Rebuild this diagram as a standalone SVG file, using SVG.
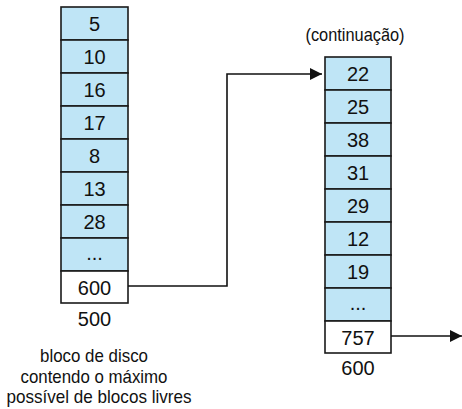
<svg xmlns="http://www.w3.org/2000/svg" width="462" height="409" viewBox="0 0 462 409">
<defs>
<marker id="ah" viewBox="0 0 12 12" refX="12" refY="6" markerWidth="12" markerHeight="12" markerUnits="userSpaceOnUse" orient="auto">
<path d="M0,0 L12,6 L0,12 Z" fill="#111"/>
</marker>
<style>
.c{fill:#bfe5f6;stroke:#1a1a1a;stroke-width:1.6}
.w{fill:#ffffff;stroke:#1a1a1a;stroke-width:1.6}
.t{font-family:"Liberation Sans",Arial,sans-serif;font-size:20px;fill:#111;text-anchor:middle}
.l{font-family:"Liberation Sans",Arial,sans-serif;font-size:19px;fill:#111;text-anchor:middle}
.k{fill:none;stroke:#111;stroke-width:1.6}
</style>
</defs>
<rect width="462" height="409" fill="#ffffff"/>
<g id="block500">
<rect class="c" x="61" y="7" width="67" height="33"/><text class="t" x="94.5" y="31">5</text>
<rect class="c" x="61" y="40" width="67" height="33"/><text class="t" x="94.5" y="64">10</text>
<rect class="c" x="61" y="73" width="67" height="33"/><text class="t" x="94.5" y="97">16</text>
<rect class="c" x="61" y="106" width="67" height="33"/><text class="t" x="94.5" y="130">17</text>
<rect class="c" x="61" y="139" width="67" height="33"/><text class="t" x="94.5" y="163">8</text>
<rect class="c" x="61" y="172" width="67" height="33"/><text class="t" x="94.5" y="196">13</text>
<rect class="c" x="61" y="205" width="67" height="33"/><text class="t" x="94.5" y="229">28</text>
<rect class="c" x="61" y="238" width="67" height="33"/><text class="t" x="94.5" y="260">...</text>
<rect class="w" x="61" y="271" width="67" height="32"/><text class="t" x="94.5" y="295">600</text>
<text class="t" x="94.5" y="326">500</text>
<text class="l" x="94" y="362" textLength="108" lengthAdjust="spacingAndGlyphs">bloco de disco</text>
<text class="l" x="94" y="383" textLength="147" lengthAdjust="spacingAndGlyphs">contendo o máximo</text>
<text class="l" x="99" y="403" textLength="185" lengthAdjust="spacingAndGlyphs">possível de blocos livres</text>
</g>
<g id="block600">
<text class="l" x="355" y="41" textLength="99" lengthAdjust="spacingAndGlyphs">(continuação)</text>
<rect class="c" x="325" y="57" width="66" height="33"/><text class="t" x="358" y="81">22</text>
<rect class="c" x="325" y="90" width="66" height="33"/><text class="t" x="358" y="114">25</text>
<rect class="c" x="325" y="123" width="66" height="33"/><text class="t" x="358" y="147">38</text>
<rect class="c" x="325" y="156" width="66" height="33"/><text class="t" x="358" y="180">31</text>
<rect class="c" x="325" y="189" width="66" height="33"/><text class="t" x="358" y="213">29</text>
<rect class="c" x="325" y="222" width="66" height="33"/><text class="t" x="358" y="246">12</text>
<rect class="c" x="325" y="255" width="66" height="33"/><text class="t" x="358" y="279">19</text>
<rect class="c" x="325" y="288" width="66" height="33"/><text class="t" x="358" y="310">...</text>
<rect class="w" x="325" y="321" width="66" height="32"/><text class="t" x="358" y="345">757</text>
<text class="t" x="358" y="375">600</text>
</g>
<g id="connectors">
<path class="k" d="M128,286 H227 V74 H322" marker-end="url(#ah)"/>
<path class="k" d="M391,336 H462" marker-end="url(#ah)"/>
</g>
</svg>
